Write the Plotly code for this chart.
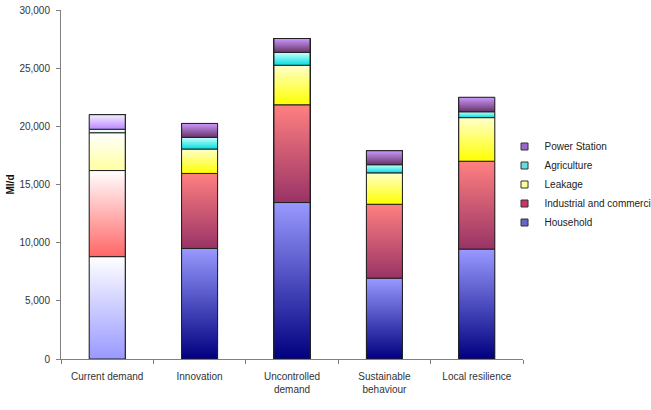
import plotly.graph_objects as go

# ---- data ----
categories = ["Current demand", "Innovation", "Uncontrolled<br>demand",
              "Sustainable<br>behaviour", "Local resilience"]
series_names = ["Household", "Industrial and commercial", "Leakage",
                "Agriculture", "Power Station"]
household = [8800, 9500, 13450, 6950, 9450]
industrial = [7400, 6450, 8400, 6350, 7550]
leakage = [3250, 2100, 3400, 2700, 3750]
agriculture = [300, 1000, 1100, 700, 500]
power = [1250, 1200, 1200, 1200, 1250]
y_ticks = [0, 5000, 10000, 15000, 20000, 25000, 30000]

# ---- styles ----
series_values = [household, industrial, leakage, agriculture, power]
legend_colors = ["#6666cc", "#cc3366", "#ffff99", "#66dddd", "#9966cc"]
# gradient (bottom -> top) for the normal bars
grad_normal = [("#000080", "#9999ff"), ("#993366", "#ff8080"),
               ("#ffff00", "#ffffcc"), ("#00dede", "#ccffff"),
               ("#663366", "#cc99ff")]
# gradient (bottom -> top) for the "Current demand" bar (colour to white)
grad_current = [("#9999ff", "#ffffff"), ("#ff6666", "#ffffff"),
                ("#ffffa0", "#ffffff"), ("#ccffff", "#ffffff"),
                ("#bb88ff", "#f5eeff")]
bar_w = 0.39
edge = "#222222"
font_family = "Liberation Sans, Arial, sans-serif"

xs = list(range(len(categories)))
fig = go.Figure()

# real stacked bars (data marks)
for name, vals, col in zip(series_names, series_values, legend_colors):
    fig.add_trace(go.Bar(x=xs, y=vals, name=name, width=bar_w,
                         marker=dict(color=col, line=dict(color=edge, width=1)),
                         showlegend=False, hoverinfo="skip"))

# gradient fill overlays computed from the same data
base = [0] * len(categories)
for s, (name, vals) in enumerate(zip(series_names, series_values)):
    for i, v in enumerate(vals):
        b = base[i]
        t = b + v
        c0, c1 = (grad_current if i == 0 else grad_normal)[s]
        fig.add_trace(go.Scatter(
            x=[i - bar_w / 2, i + bar_w / 2, i + bar_w / 2, i - bar_w / 2, i - bar_w / 2],
            y=[b, b, t, t, b],
            mode="lines", fill="toself",
            fillgradient=dict(type="vertical", colorscale=[[0, c0], [1, c1]]),
            line=dict(color=edge, width=1),
            showlegend=False, hoverinfo="skip"))
        base[i] = t

# legend entries
for name, col in zip(series_names, legend_colors):
    fig.add_trace(go.Scatter(x=[None], y=[None], mode="markers", name=name,
                             marker=dict(symbol="square", size=7, color=col,
                                         line=dict(color="#333333", width=1))))

fig.update_layout(
    width=651, height=410,
    margin=dict(l=61, r=128, t=10, b=51, autoexpand=False),
    paper_bgcolor="white", plot_bgcolor="white",
    barmode="stack",
    font=dict(family=font_family, size=10, color="#333333"),
    legend=dict(x=0.96, xanchor="left", y=0.5, yanchor="middle",
                traceorder="reversed", font=dict(size=10, color="#222222"),
                bgcolor="rgba(0,0,0,0)", itemwidth=30),
    xaxis=dict(range=[-0.5, 4.5], tickvals=xs, ticktext=categories,
               ticks="", showgrid=False, zeroline=False,
               showline=True, linecolor="#808080", linewidth=1,
               ticklabelstandoff=8,
               minor=dict(ticks="outside", tick0=-0.5, dtick=1, ticklen=4,
                          tickcolor="#808080", showgrid=False),
               tickfont=dict(size=10, color="#333333")),
    yaxis=dict(range=[0, 30000], tickvals=y_ticks, tickformat=",",
               ticks="outside", ticklen=4, tickcolor="#808080",
               ticklabelstandoff=4,
               showgrid=False, zeroline=False,
               showline=True, linecolor="#808080", linewidth=1,
               tickfont=dict(size=10, color="#333333"),
               title=dict(text="<b>Ml/d</b>", standoff=2,
                          font=dict(size=10, color="#111111")),
               automargin=False),
)

fig.write_html("out.html")
